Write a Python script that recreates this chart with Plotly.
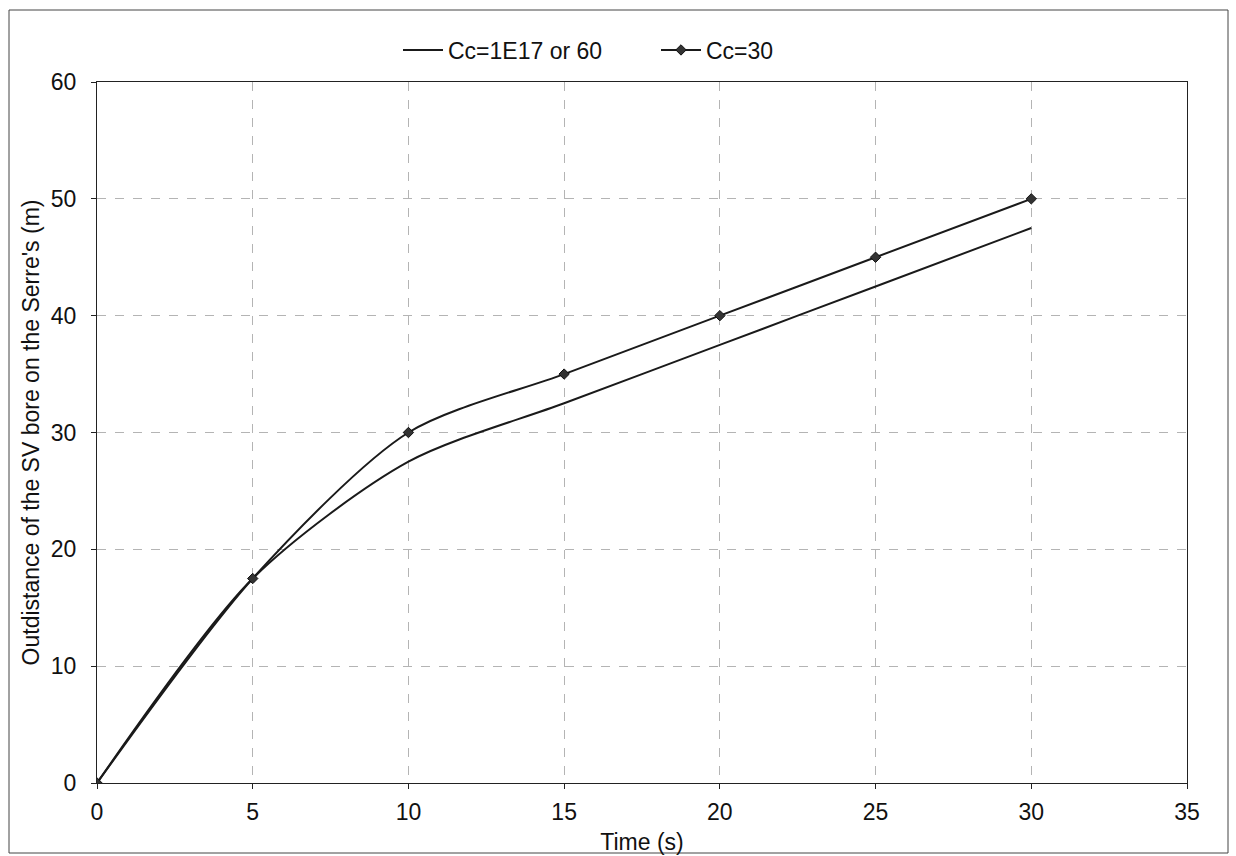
import plotly.graph_objects as go

time_s = [0, 5, 10, 15, 20, 25, 30]
cc_1e17 = [0, 17.5, 27.5, 32.5, 37.5, 42.5, 47.5]
cc_30 = [0, 17.5, 30, 35, 40, 45, 50]

fig = go.Figure()
fig.add_trace(go.Scatter(x=time_s, y=cc_1e17, mode="lines", name="Cc=1E17 or 60",
                         line=dict(color="#1a1a1a", width=2, shape="spline", smoothing=0.8)))
fig.add_trace(go.Scatter(x=time_s, y=cc_30, mode="lines+markers", name="Cc=30",
                         line=dict(color="#1a1a1a", width=2, shape="spline", smoothing=0.8),
                         marker=dict(symbol="diamond", size=8, color="#333333",
                                     line=dict(color="#111111", width=1))))

L, R, T, B = 97, 49, 82, 73
W, H = 1236, 856
pw, ph = W - L - R, H - T - B

def px_x(px):
    return (px - L) / pw

def px_y(py):
    return (H - B - py) / ph

fig.add_shape(type="rect", xref="paper", yref="paper",
              x0=px_x(9), x1=px_x(1228), y0=px_y(853), y1=px_y(10),
              line=dict(color="#444444", width=1), layer="below")

FONT = "Liberation Sans, Arial, sans-serif"
axis_common = dict(showline=True, linecolor="#222222", linewidth=1, mirror=True,
                   showgrid=True, gridcolor="#b4b4b4", griddash="dash", gridwidth=1,
                   ticks="outside", ticklen=5, tickcolor="#222222", zeroline=False,
                   automargin=False,
                   tickfont=dict(family=FONT, size=23, color="#111111"))

fig.update_layout(
    width=W, height=H,
    margin=dict(l=L, r=R, t=T, b=B),
    paper_bgcolor="white", plot_bgcolor="white",
    font=dict(family=FONT, color="#111111"),
    showlegend=True,
    legend=dict(orientation="h", x=px_x(398), y=px_y(50), xanchor="left", yanchor="middle",
                bgcolor="rgba(0,0,0,0)", font=dict(size=23, color="#111111"),
                entrywidth=203, itemwidth=40),
    xaxis=dict(range=[0, 35], dtick=5, ticklabelstandoff=3,
               title=dict(text="Time (s)", font=dict(size=23), standoff=10), **axis_common),
    yaxis=dict(range=[0, 60], dtick=10, ticklabelstandoff=10,
               title=dict(text="Outdistance of the SV bore on the Serre's (m)",
                          font=dict(size=23), standoff=4), **axis_common),
)

fig.write_html("out.html")
